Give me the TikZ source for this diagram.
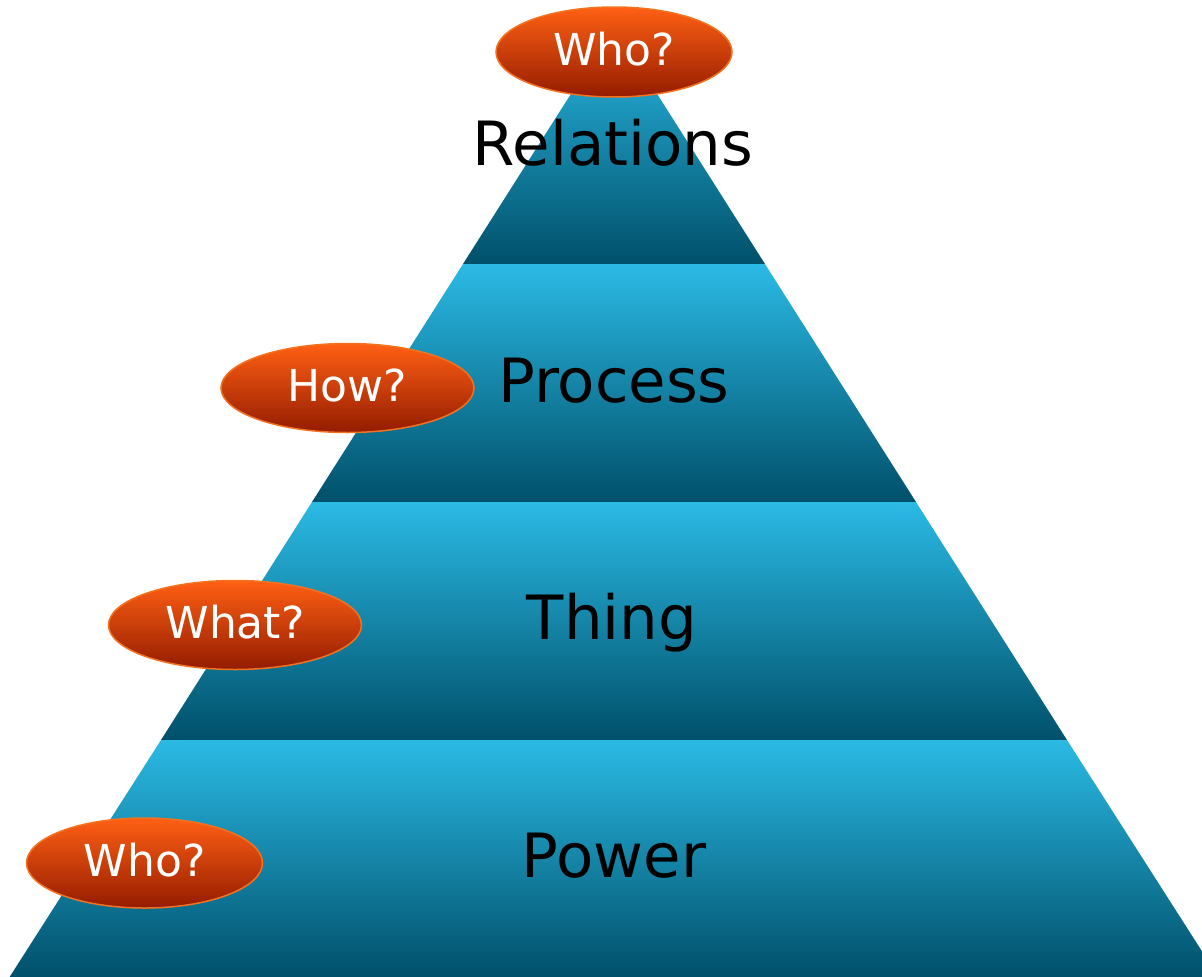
\documentclass[tikz,border=0pt]{standalone}
\usepackage{fontspec}
\setmainfont{DejaVu Sans}
\usetikzlibrary{shapes.geometric}
\definecolor{bandtop}{HTML}{2BBAE5}
\definecolor{bandmid}{HTML}{0996C1}
\definecolor{bandbot}{HTML}{00506A}
\definecolor{elltop}{HTML}{FF6014}
\definecolor{ellmid}{HTML}{DC3C04}
\definecolor{ellbot}{HTML}{941C00}
\definecolor{ellline}{HTML}{F27220}
\tikzset{
  band/.style={top color=bandtop, middle color=bandmid, bottom color=bandbot, draw=none},
  question/.style={ellipse, draw=ellline, line width=1.5pt, top color=elltop, middle color=ellmid, bottom color=ellbot,
    minimum width=236pt, minimum height=90pt, inner sep=0pt, text=white,
    font=\fontsize{44}{52}\selectfont, text height=27pt, text depth=0pt},
  wide/.style={minimum width=253pt, minimum height=89pt},
  layer/.style={anchor=base, text=black, font=\fontsize{61}{72}\selectfont, inner sep=0pt}
}
\begin{document}
\begin{tikzpicture}[x=1pt,y=-1pt]
\useasboundingbox (0,0) rectangle (1202,977);
% bands
\shade[band] (614,26) -- (765.0,264) -- (463.0,264) -- cycle;
\shade[band] (463.0,264) -- (765.0,264) -- (916.0,502) -- (312.0,502) -- cycle;
\shade[band] (312.0,502) -- (916.0,502) -- (1067.0,740) -- (161.0,740) -- cycle;
\shade[band] (161.0,740) -- (1067.0,740) -- (1218.4,977) -- (9.6,977) -- cycle;
% labels
\node[layer] (relations) at (613,165) {Relations};
\node[layer] (process) at (614,402) {Process};
\node[layer] (thing) at (612,639) {Thing};
\node[layer] (power) at (614,877) {Power};
% questions
\node[question] (whotop) at (614,52) {Who?};
\node[question, wide] (how) at (347.5,388) {How?};
\node[question, wide] (what) at (235,625) {What?};
\node[question] (whobot) at (144.5,863) {Who?};
\end{tikzpicture}
\end{document}
